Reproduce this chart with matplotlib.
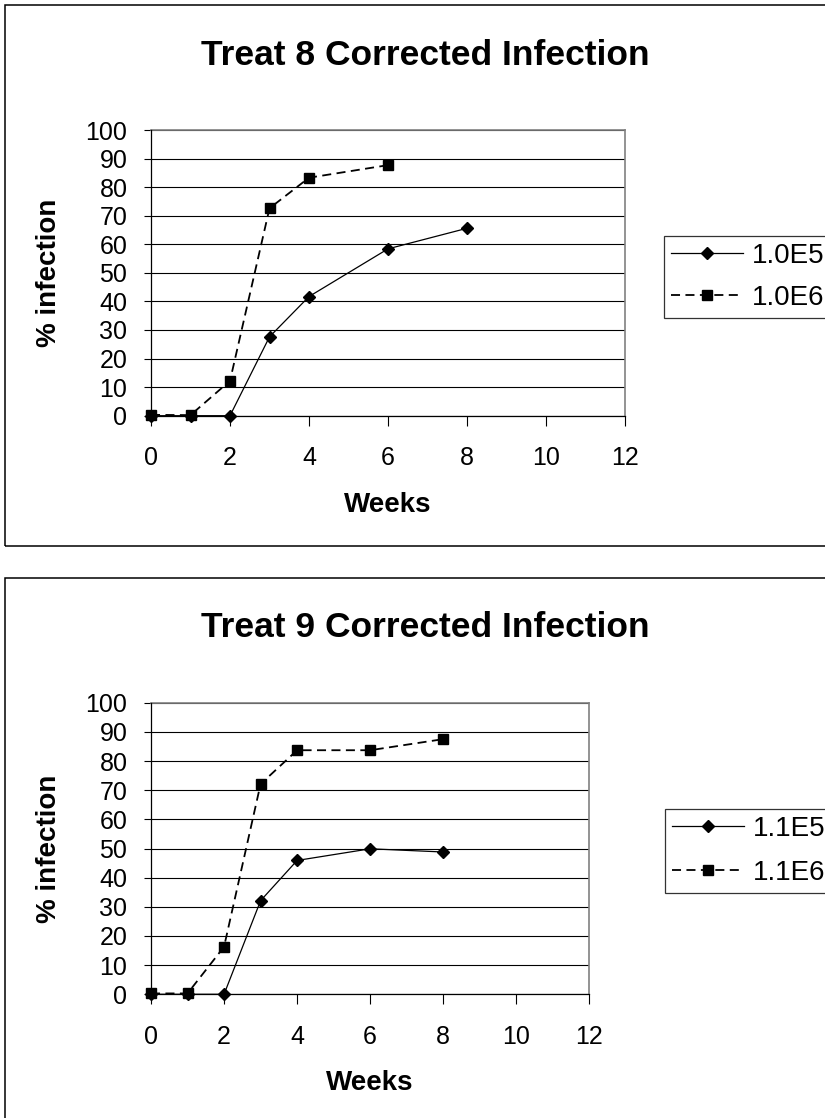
import matplotlib
matplotlib.use("Agg")
import matplotlib.pyplot as plt
from matplotlib.patches import Rectangle

plt.rcParams['font.family'] = ['Liberation Sans', 'DejaVu Sans']

# ---- data ----
weeks_t8_low = [0, 1, 2, 3, 4, 6, 8]
infection_t8_low = [0, 0, 0, 27.6, 41.7, 58.4, 65.6]
weeks_t8_high = [0, 1, 2, 3, 4, 6]
infection_t8_high = [0.3, 0.2, 12.2, 72.6, 83.3, 87.7]

weeks_t9_low = [0, 1, 2, 3, 4, 6, 8]
infection_t9_low = [0, 0, 0, 32.1, 45.9, 49.9, 48.8]
weeks_t9_high = [0, 1, 2, 3, 4, 6, 8]
infection_t9_high = [0.3, 0.3, 16.3, 72.1, 83.7, 83.7, 87.5]

titles = ["Treat 8 Corrected Infection", "Treat 9 Corrected Infection"]
legend_labels = [["1.0E5", "1.0E6"], ["1.1E5", "1.1E6"]]
x_ticks = [0, 2, 4, 6, 8, 10, 12]
y_ticks = list(range(0, 101, 10))

W, H = 825, 1118
fig = plt.figure(figsize=(W / 100, H / 100), dpi=100)


def fx(px):
    return px / W


def fy(py):
    return 1 - py / H


def panel(frame, plot, title_base, xlabel_base, legend_top, title, data, labels,
          row_gap):
    # chart frame
    fl, ft, fr, fb = frame
    fig.patches.append(Rectangle((fx(fl), fy(fb)), fx(fr) - fx(fl), fy(ft) - fy(fb),
                                 transform=fig.transFigure, fill=False,
                                 edgecolor='black', linewidth=1.1))
    l, t, r, b = plot
    ax = fig.add_axes([fx(l), fy(b), fx(r) - fx(l), fy(t) - fy(b)])
    ax.set_xlim(0, 12)
    ax.set_ylim(0, 100)
    ax.set_xticks(x_ticks)
    ax.set_yticks(y_ticks)
    ax.tick_params(axis='both', direction='out', width=0.8,
                   labelsize=18, color='black')
    ax.tick_params(axis='x', length=7, pad=15)
    ax.tick_params(axis='y', length=5, pad=12)
    ax.yaxis.grid(True, color='black', linewidth=0.8)
    ax.set_axisbelow(True)
    for side in ['top', 'right']:
        ax.spines[side].set_color('#808080')
        ax.spines[side].set_linewidth(1.2)
    for side in ['left', 'bottom']:
        ax.spines[side].set_color('black')
        ax.spines[side].set_linewidth(0.9)
    ax.spines['left'].set_zorder(3)

    (wl, vl), (wh, vh) = data
    h1, = ax.plot(wl, vl, color='black', linewidth=0.9, marker='D',
                  markersize=6.5, clip_on=False, zorder=4)
    h2, = ax.plot(wh, vh, color='black', linewidth=1.3, linestyle=(0, (5, 3)),
                  marker='s', markersize=7, clip_on=False, zorder=4)

    fig.text(fx((fl + fr) / 2), fy(title_base), title, ha='center', va='baseline',
             fontsize=25.5, fontweight='bold')
    fig.text(fx(49), fy((t + b) / 2), "% infection", ha='center', va='center',
             rotation=90, fontsize=20, fontweight='bold')
    fig.text(fx((l + r) / 2), fy(xlabel_base), "Weeks", ha='center', va='baseline',
             fontsize=20, fontweight='bold')

    bl, bt = legend_top
    leg = fig.legend([h1, h2], labels, loc='upper left',
                     bbox_to_anchor=(fx(bl), fy(bt)), frameon=True, fancybox=False,
                     fontsize=20, handlelength=2.6, handletextpad=0.3,
                     borderpad=0.25, labelspacing=row_gap, borderaxespad=0)
    leg.get_frame().set_edgecolor('black')
    leg.get_frame().set_linewidth(0.9)
    return ax


panel(frame=(5, 5, 845, 546), plot=(151, 130, 625, 415.7), title_base=65, xlabel_base=512,
      legend_top=(664, 236), title=titles[0],
      data=((weeks_t8_low, infection_t8_low), (weeks_t8_high, infection_t8_high)),
      labels=legend_labels[0], row_gap=0.57)

panel(frame=(5, 578, 845, 1140), plot=(151, 702.7, 589.3, 994.3), title_base=637, xlabel_base=1090,
      legend_top=(665, 809), title=titles[1],
      data=((weeks_t9_low, infection_t9_low), (weeks_t9_high, infection_t9_high)),
      labels=legend_labels[1], row_gap=0.65)

fig.savefig("out.png", dpi=100)
